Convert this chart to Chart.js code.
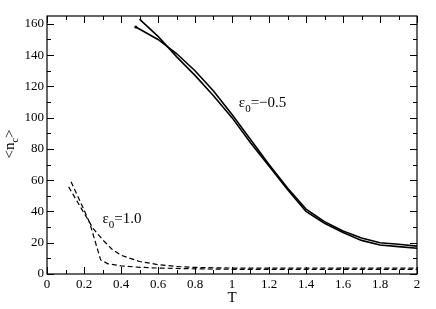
<!DOCTYPE html>
<html><head><meta charset="utf-8">
<script src="https://cdn.jsdelivr.net/npm/chart.js@4.4.1/dist/chart.umd.min.js"></script>
<style>html,body{margin:0;padding:0;background:#fff}#wrap{width:436px;height:309px}</style>
</head><body><div id="wrap"><canvas id="c" width="436" height="309"></canvas></div>
<script>
// eps0 = -0.5 (solid)
const solidA_T = [0.5,0.6,0.7,0.8,0.9,1.0,1.1,1.2,1.3,1.4,1.5,1.6,1.7,1.8,1.9,2.0];
const solidA_N = [163,152,139,127,114,100,84,69,54,40,32.5,26.5,21.5,18.5,17.5,16.5];
const solidB_T = [0.48,0.6,0.7,0.8,0.9,1.0,1.1,1.2,1.3,1.4,1.5,1.6,1.7,1.8,1.9,2.0];
const solidB_N = [158,150,141,130,117,102,86,70,55,41.5,33.5,27.5,23,20,19,17.8];
// eps0 = 1.0 (dashed)
const dashC_T = [0.13,0.2,0.23,0.29,0.33,0.4,0.5,0.6,0.8,1.0,1.5,2.0];
const dashC_N = [59,41,33,9,6.5,5.2,4.3,3.8,3.3,3.0,3.0,3.0];
const dashD_T = [0.117,0.2,0.25,0.3,0.35,0.4,0.5,0.6,0.7,0.8,1.0,1.5,2.0];
const dashD_N = [55.7,39,29,22,16,12,8,6,4.8,4.2,3.8,3.8,3.8];
const xTicks = [0,0.2,0.4,0.6,0.8,1,1.2,1.4,1.6,1.8,2];
const yTicks = [0,20,40,60,80,100,120,140,160];

const pts = (xs, ys) => xs.map((x,i)=>({x:x, y:ys[i]}));
const FONT = '"Liberation Serif", "DejaVu Serif", serif';

const decor = {
  id:'decor',
  afterDraw(chart){
    const ctx = chart.ctx, a = chart.chartArea, xs = chart.scales.x, ys = chart.scales.y;
    ctx.save();
    ctx.strokeStyle = '#000'; ctx.lineWidth = 1.2;
    ctx.strokeRect(a.left, a.top, a.right-a.left, a.bottom-a.top);
    ctx.lineWidth = 1;
    ctx.beginPath();
    for (let v=0; v<=2.0001; v+=0.1){
      const major = Math.abs(v*5 - Math.round(v*5)) < 1e-6;
      const L = major ? 7 : 4;
      const px = Math.round(xs.getPixelForValue(v))+0.5;
      ctx.moveTo(px, a.bottom); ctx.lineTo(px, a.bottom-L);
      ctx.moveTo(px, a.top); ctx.lineTo(px, a.top+L);
    }
    for (let v=0; v<=165; v+=10){
      const major = v % 20 === 0;
      const L = major ? 7 : 4;
      const py = Math.round(ys.getPixelForValue(v))+0.5;
      ctx.moveTo(a.left, py); ctx.lineTo(a.left+L, py);
      ctx.moveTo(a.right, py); ctx.lineTo(a.right-L, py);
    }
    ctx.stroke();

    ctx.fillStyle = '#000';
    // x title
    ctx.font = '15px ' + FONT;
    ctx.textAlign = 'center'; ctx.textBaseline = 'alphabetic';
    ctx.fillText('T', (a.left+a.right)/2, 302);
    // y title <n_c>
    ctx.save();
    ctx.translate(14, 144);
    ctx.rotate(-Math.PI/2);
    ctx.textAlign = 'left';
    ctx.font = '15px ' + FONT;
    const w1 = ctx.measureText('<n').width;
    ctx.font = '10px ' + FONT;
    const w2 = ctx.measureText('c').width;
    ctx.font = '15px ' + FONT;
    const w3 = ctx.measureText('>').width;
    let x0 = -(w1+w2+w3)/2;
    ctx.fillText('<n', x0, 0);
    ctx.font = '10px ' + FONT;
    ctx.fillText('c', x0+w1, 4);
    ctx.font = '15px ' + FONT;
    ctx.fillText('>', x0+w1+w2, 0);
    ctx.restore();

    // annotations
    function label(tv, nv, rest){
      let x = xs.getPixelForValue(tv), y = ys.getPixelForValue(nv);
      ctx.textAlign = 'left';
      ctx.font = '15px ' + FONT;
      ctx.fillText('\u03b5', x, y);
      x += ctx.measureText('\u03b5').width;
      ctx.font = '11px ' + FONT;
      ctx.fillText('0', x, y+5);
      x += ctx.measureText('0').width;
      ctx.font = '15px ' + FONT;
      ctx.fillText(rest, x, y);
    }
    label(1.037, 107, '=\u22120.5');
    label(0.30, 32.8, '=1.0');
    ctx.restore();
  }
};

new Chart(document.getElementById('c'), {
  type:'scatter',
  data:{ datasets:[
    {data:pts(solidA_T, solidA_N), showLine:true, borderColor:'#000', borderWidth:1.6, pointRadius:0, tension:0},
    {data:pts(solidB_T, solidB_N), showLine:true, borderColor:'#000', borderWidth:1.6, pointRadius:solidB_T.map((_,i)=>i===0?1.5:0), pointBackgroundColor:'#000', pointBorderWidth:0, tension:0},
    {data:pts(dashC_T, dashC_N), showLine:true, borderColor:'#000', borderWidth:1.2, borderDash:[5,3], pointRadius:0, tension:0},
    {data:pts(dashD_T, dashD_N), showLine:true, borderColor:'#000', borderWidth:1.2, borderDash:[5,3], pointRadius:0, tension:0}
  ]},
  options:{
    responsive:false, animation:false, devicePixelRatio:1,
    layout:{padding:{left:0,right:19,top:16,bottom:0}},
    plugins:{legend:{display:false}, tooltip:{enabled:false}},
    scales:{
      x:{type:'linear', min:0, max:2,
        afterBuildTicks(s){ s.ticks = xTicks.map(v=>({value:v})); },
        afterFit(s){ s.height = 35; },
        grid:{display:false, drawTicks:false}, border:{display:false},
        ticks:{padding:3, color:'#000', font:{family:FONT, size:13}, maxRotation:0, autoSkip:false,
          callback:v=>String(Math.round(v*10)/10)}},
      y:{type:'linear', min:0, max:165,
        afterBuildTicks(s){ s.ticks = yTicks.map(v=>({value:v})); },
        afterFit(s){ s.width = 47; },
        grid:{display:false, drawTicks:false}, border:{display:false},
        ticks:{padding:3, color:'#000', font:{family:FONT, size:13}, autoSkip:false}}
    }
  },
  plugins:[decor]
});
</script></body></html>
